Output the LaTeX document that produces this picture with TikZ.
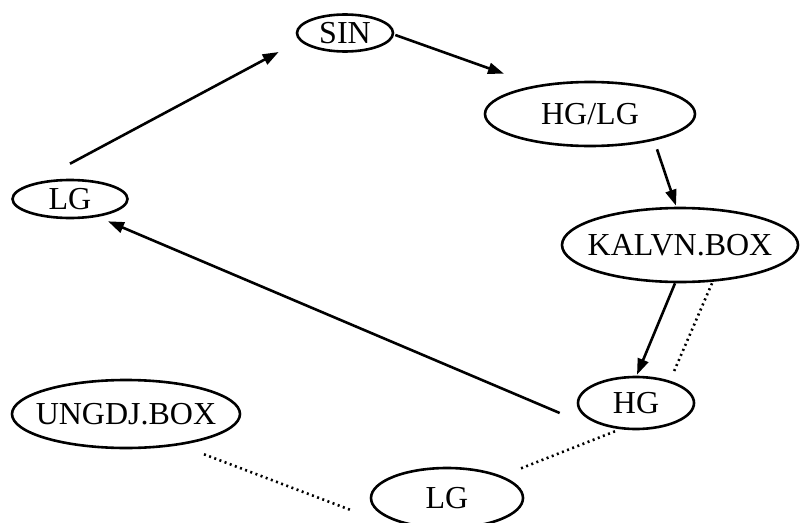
\documentclass[tikz,border=0pt]{standalone}
\usepackage{fontspec}
\setmainfont{Liberation Serif}
\usetikzlibrary{shapes.geometric,arrows.meta,calc}
\newcommand{\zw}[1]{\makebox[0pt]{#1}}
\begin{document}
\begin{tikzpicture}[x=1pt,y=-1pt,
  elnode/.style={ellipse,draw,line width=2.6pt,inner sep=0pt,
    font=\fontsize{32}{32}\selectfont},
  arr/.style={line width=2.6pt,-{Triangle[length=16pt,width=11pt]}},
  dotline/.style={line width=2.6pt,dash pattern=on 2pt off 3.5pt}]
\useasboundingbox (0,0) rectangle (800,522);
\node[elnode,minimum width=96pt,minimum height=37pt] (sin) at (345,33) {\zw{SIN}};
\node[elnode,minimum width=210pt,minimum height=64pt] (hglg) at (590,114) {\zw{HG/LG}};
\node[elnode,minimum width=115pt,minimum height=38pt] (lgl) at (70,199) {\zw{LG}};
\node[elnode,minimum width=236pt,minimum height=74pt] (kalvn) at (680,245) {\zw{KALVN.BOX}};
\node[elnode,minimum width=116pt,minimum height=52pt] (hg) at (636,403) {\zw{HG}};
\node[elnode,minimum width=228pt,minimum height=68pt] (ungdj) at (126,414) {\zw{UNGDJ.BOX}};
\node[elnode,minimum width=152pt,minimum height=60pt] (lgb) at (447,498) {\zw{LG}};
\draw[arr] ($(lgl.north)+(0,-15)$) -- ($(sin.west)+(-17,19)$);
\draw[arr] ($(sin.east)+(1,2)$) -- ($(hglg.north)+(-86,-7)$);
\draw[arr] ($(hglg.south)+(67,2)$) -- ($(kalvn.north)+(-4,-1)$);
\draw[arr] ($(kalvn.south)+(-5,0)$) -- ($(hg.north)+(1,-1)$);
\draw[dotline] ($(kalvn.south)+(32,0)$) -- ($(hg.north)+(37,-2)$);
\draw[arr] ($(hg.west)+(-17,10)$) -- ($(lgl.south)+(38,2)$);
\draw[dotline] ($(hg.south)+(-21,1)$) -- ($(lgb.north)+(73,2)$);
\draw[dotline] ($(ungdj.south)+(78,5)$) -- ($(lgb.west)+(-19,12)$);
\end{tikzpicture}
\end{document}
